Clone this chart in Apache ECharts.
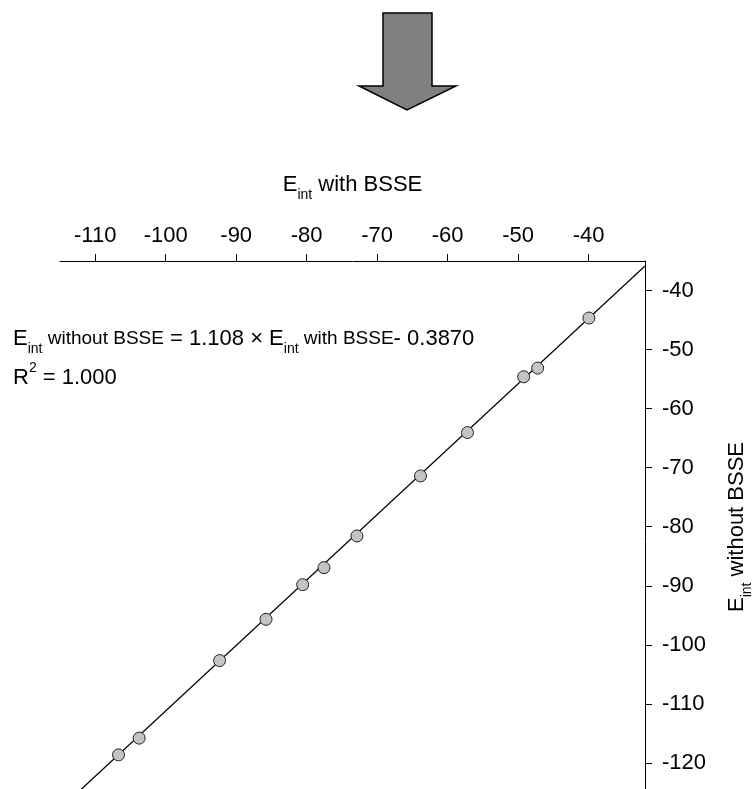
<!DOCTYPE html>
<html><head><meta charset="utf-8">
<script src="https://cdn.jsdelivr.net/npm/echarts@6/dist/echarts.min.js"></script>
<style>html,body{margin:0;padding:0;background:#fff;overflow:hidden;width:755px;height:789px}#c{width:755px;height:822px}</style>
</head><body><div id="c"></div>
<script>
// ---- data ----
const withBSSE    = [-39.96, -47.23, -49.21, -57.19, -63.85, -72.87, -77.55, -80.57, -85.77, -92.36, -103.77, -106.70];
const withoutBSSE = [-44.66, -53.14, -54.61, -64.05, -71.39, -81.56, -86.93, -89.81, -95.68, -102.66, -115.80, -118.63];
const xTicks = [-110, -100, -90, -80, -70, -60, -50, -40];
const yTicks = [-40, -50, -60, -70, -80, -90, -100, -110, -120];
const xRange = [-115, -32];
const yRange = [-130, -35];
const fitSlope = 1.108;
const fitIntercept = -0.3870;

const FONT = '"Liberation Sans", Arial, Helvetica, sans-serif';
const points = withBSSE.map((x, i) => [x, withoutBSSE[i]]);
const fitLine = xRange.map(x => [x, fitSlope * x + fitIntercept]);

const chart = echarts.init(document.getElementById('c'), null, {renderer: 'canvas'});
const richBase = {
  E: {fontSize: 22, lineHeight: 34, fontFamily: FONT, color: '#000'},
  s: {fontSize: 14, lineHeight: 14, verticalAlign: 'bottom', fontFamily: FONT, color: '#000'},
  m: {fontSize: 19, lineHeight: 34, fontFamily: FONT, color: '#000'},
  b: {fontSize: 22, lineHeight: 34, fontFamily: FONT, color: '#000'},
  p: {fontSize: 14, lineHeight: 26, verticalAlign: 'top', fontFamily: FONT, color: '#000'}
};
chart.setOption({
  animation: false,
  backgroundColor: '#fff',
  grid: {left: 60, right: 110, top: 261, bottom: 0, containLabel: false},
  xAxis: {
    type: 'value', position: 'top', min: xRange[0], max: xRange[1],
    axisLine: {show: true, onZero: false, lineStyle: {color: '#000', width: 1}},
    axisTick: {show: true, inside: false, length: 7, customValues: xTicks, lineStyle: {color: '#000', width: 1}},
    axisLabel: {show: true, customValues: xTicks, margin: 14, fontSize: 22, fontFamily: FONT, color: '#000'},
    splitLine: {show: false}
  },
  yAxis: {
    type: 'value', position: 'right', min: yRange[0], max: yRange[1],
    axisLine: {show: true, onZero: false, lineStyle: {color: '#000', width: 1}},
    axisTick: {show: true, inside: false, length: 7, customValues: yTicks, lineStyle: {color: '#000', width: 1}},
    axisLabel: {show: true, customValues: yTicks, margin: 17, fontSize: 22, fontFamily: FONT, color: '#000'},
    splitLine: {show: false}
  },
  series: [
    {type: 'line', data: fitLine, symbol: 'none', silent: true, z: 2,
     lineStyle: {color: '#000', width: 1.2}},
    {type: 'scatter', data: points, symbol: 'circle', symbolSize: 12, z: 3,
     itemStyle: {color: '#c4c4c4', borderColor: '#222', borderWidth: 1, opacity: 1}}
  ],
  graphic: [
    {type: 'polygon', z: 10,
     shape: {points: [[383, 13], [432, 13], [432, 86], [456, 86], [407, 110], [359, 86], [383, 86]]},
     style: {fill: '#808080', stroke: '#000', lineWidth: 1.5}},
    {type: 'text', x: 352.5, y: 185, z: 10,
     style: {text: '{E|E}{s|int}{b| with BSSE}', rich: richBase, align: 'center', verticalAlign: 'middle'}},
    {type: 'text', x: 737, y: 527, rotation: Math.PI / 2, z: 10,
     style: {text: '{E|E}{s|int}{b| without BSSE}', rich: richBase, align: 'center', verticalAlign: 'middle'}},
    {type: 'text', x: 13, y: 339, z: 10,
     style: {text: '{E|E}{s|int}{m| without BSSE}{b| = 1.108 × }{E|E}{s|int}{m| with BSSE}{b|- 0.3870}', rich: richBase, align: 'left', verticalAlign: 'middle'}},
    {type: 'text', x: 13, y: 378, z: 10,
     style: {text: '{E|R}{p|2}{b| = 1.000}', rich: richBase, align: 'left', verticalAlign: 'middle'}}
  ]
});
</script>
</body></html>
